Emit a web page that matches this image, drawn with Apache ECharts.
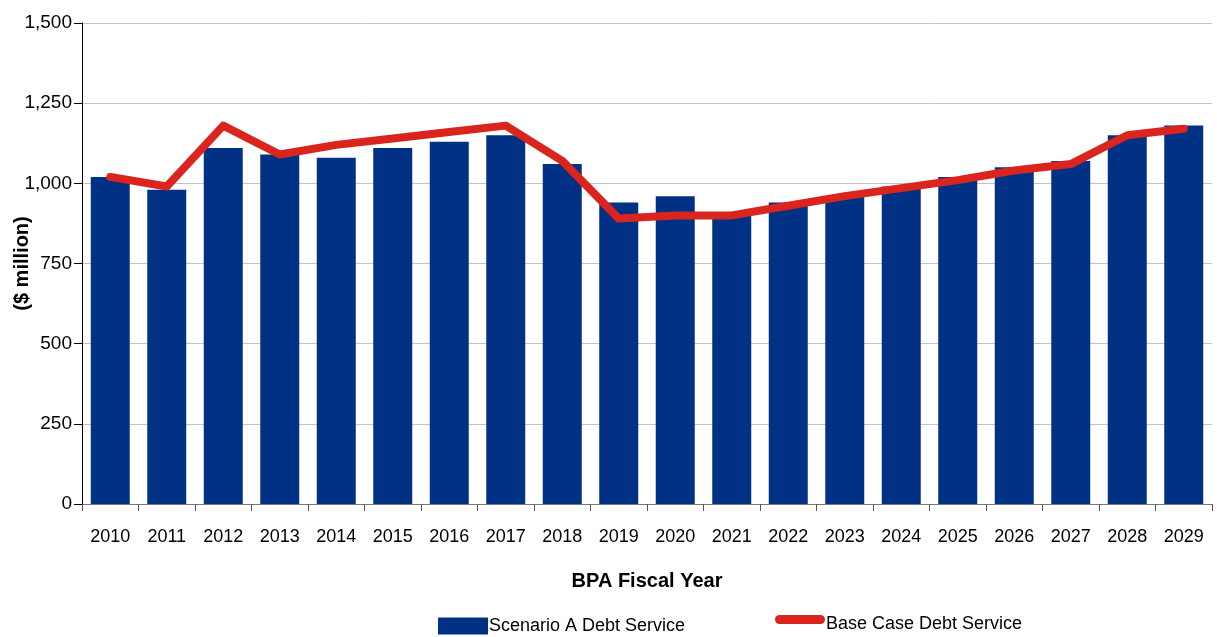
<!DOCTYPE html>
<html>
<head>
<meta charset="utf-8">
<script src="https://cdn.jsdelivr.net/npm/echarts@6/dist/echarts.min.js"></script>
<style>html,body{margin:0;padding:0;background:#fff;}#c{width:1217px;height:637px;}</style>
</head>
<body>
<div id="c"></div>
<script>
const years = ['2010','2011','2012','2013','2014','2015','2016','2017','2018','2019','2020','2021','2022','2023','2024','2025','2026','2027','2028','2029'];
const scenarioA = [1020,980,1110,1090,1080,1110,1130,1150,1060,940,960,900,940,960,990,1020,1050,1070,1150,1180];
const baseCase = [1020,990,1180,1090,1120,1140,1160,1180,1070,890,900,900,930,960,985,1010,1040,1060,1150,1170];
const yTicks = [0,250,500,750,1000,1250,1500];

const FONT = '"Liberation Sans",Arial,sans-serif';
const lineIcon = 'path://M0,0 M50,20 M4.5,1 L45.5,1 A4.5,4.5 0 0 1 45.5,10 L4.5,10 A4.5,4.5 0 0 1 4.5,1 Z';
const chart = echarts.init(document.getElementById('c'));
chart.setOption({
  animation: false,
  textStyle: {fontFamily: FONT, color: '#000'},
  grid: {left: 82, right: 5, top: 23, bottom: 133, containLabel: false, outerBoundsMode: 'none'},
  legend: [
    {data: ['Scenario A Debt Service'], left: 438, top: 617, padding: 0, itemWidth: 50, itemHeight: 17, itemGap: 2,
     textStyle: {fontFamily: FONT, fontSize: 18, color: '#000', letterSpacing: -0.6, padding: [0,0,0,-4]}, icon: 'rect'},
    {data: ['Base Case Debt Service'], left: 775, top: 614, padding: 0, itemWidth: 50, itemHeight: 20, itemGap: 2,
     textStyle: {fontFamily: FONT, fontSize: 18, color: '#000', letterSpacing: -0.6, padding: [0,0,0,-4]}, icon: lineIcon}
  ],
  xAxis: {
    type: 'category', data: years,
    name: 'BPA Fiscal Year', nameLocation: 'middle', nameGap: 67, nameMoveOverlap: false,
    nameTextStyle: {fontFamily: FONT, fontSize: 20, fontWeight: 'bold', color: '#000', letterSpacing: -1},
    axisLine: {lineStyle: {color: '#777', width: 1}},
    axisTick: {show: true, length: 7, lineStyle: {color: '#555'}},
    axisLabel: {fontSize: 18, color: '#000', margin: 24, interval: 0, letterSpacing: -0.8}
  },
  yAxis: {
    type: 'value', min: 0, max: 1500, interval: 250,
    name: '($ million)', nameLocation: 'middle', nameGap: 50, nameRotate: 90, nameMoveOverlap: false,
    nameTextStyle: {fontFamily: FONT, fontSize: 20, fontWeight: 'bold', color: '#000'},
    axisLine: {show: true, lineStyle: {color: '#000', width: 1}},
    axisTick: {show: true, length: 8, lineStyle: {color: '#000'}},
    axisLabel: {fontSize: 19, color: '#000', margin: 10, letterSpacing: -0.8,
      formatter: v => yTicks.includes(v) ? v.toLocaleString('en-US') : ''},
    splitLine: {lineStyle: {color: '#c4c4c4', width: 1}}
  },
  series: [
    {name: 'Scenario A Debt Service', type: 'bar', data: scenarioA, barCategoryGap: '31%',
     itemStyle: {color: '#003184'}},
    {name: 'Base Case Debt Service', type: 'line', data: baseCase, showSymbol: false, symbol: 'none',
     lineStyle: {color: '#da251f', width: 8, cap: 'round', join: 'round'},
     itemStyle: {color: '#da251f'}}
  ]
});
</script>
</body>
</html>
